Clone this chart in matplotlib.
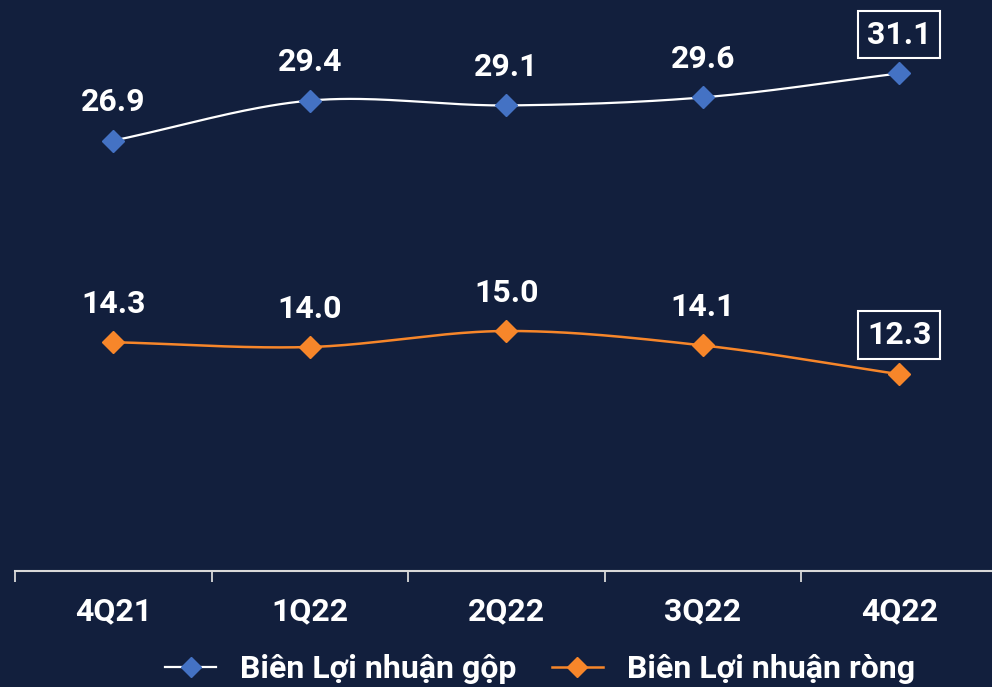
import numpy as np
import matplotlib
matplotlib.use("Agg")
import matplotlib.pyplot as plt
from matplotlib.lines import Line2D

categories = ["4Q21", "1Q22", "2Q22", "3Q22", "4Q22"]
gross_margin = [26.9, 29.4, 29.1, 29.6, 31.1]
net_margin = [14.3, 14.0, 15.0, 14.1, 12.3]
series_names = ["Biên Lợi nhuận gộp", "Biên Lợi nhuận ròng"]

BG = "#121f3d"
BLUE = "#4472c4"
ORANGE = "#f7862a"
WHITE = "#ffffff"
AXIS = "#d9d9d9"

plt.rcParams['font.family'] = ['Roboto', 'DejaVu Sans']
W = 'bold'
FS = 23


def smooth(xs, ys, n=40):
    """Catmull-Rom curve through the given points (for drawing only)."""
    xs = np.asarray(xs, float)
    ys = np.asarray(ys, float)
    P = np.column_stack([xs, ys])
    P = np.vstack([P[0] - (P[1] - P[0]), P, P[-1] + (P[-1] - P[-2])])
    out = []
    for i in range(1, len(P) - 2):
        p0, p1, p2, p3 = P[i - 1], P[i], P[i + 1], P[i + 2]
        t = np.linspace(0, 1, n)[:, None]
        seg = 0.5 * ((2 * p1) + (-p0 + p2) * t + (2 * p0 - 5 * p1 + 4 * p2 - p3) * t ** 2
                     + (-p0 + 3 * p1 - 3 * p2 + p3) * t ** 3)
        out.append(seg if i == 1 else seg[1:])
    out = np.vstack(out)
    return out[:, 0], out[:, 1]


fig = plt.figure(figsize=(9.92, 6.87), dpi=100, facecolor=BG)
ax = fig.add_axes([15 / 992, (687 - 571) / 687, 982.5 / 992, 560 / 687])
ax.set_facecolor(BG)

x = np.arange(len(categories))

sx, sy = smooth(x, gross_margin)
ax.plot(sx, sy, color=WHITE, lw=1.6, zorder=2)
ax.plot(x, gross_margin, ls='none', marker='D', ms=11, color=BLUE, mec=BLUE, zorder=3)

sx, sy = smooth(x, net_margin)
ax.plot(sx, sy, color=ORANGE, lw=1.8, zorder=2)
ax.plot(x, net_margin, ls='none', marker='D', ms=11, color=ORANGE, mec=ORANGE, zorder=3)

for series in (gross_margin, net_margin):
    for i, v in enumerate(series):
        last = i == len(series) - 1
        off = 28 if last else 27.5
        bbox = dict(boxstyle='square,pad=0.28', fc=BG, ec=WHITE, lw=1.5) if last else None
        ax.annotate(f"{v:.1f}", (i, v), xytext=(0, off), textcoords='offset points',
                    ha='center', va='center', color=WHITE, fontsize=FS,
                    fontweight=W, bbox=bbox, zorder=4)

ax.set_xlim(-0.5, len(categories) - 0.5)
ax.set_ylim(0, 35)
ax.set_yticks([])
ax.set_xticks(x)
ax.set_xticklabels(categories, color=WHITE, fontsize=FS, fontweight=W)
ax.set_xticks(np.arange(-0.5, len(categories)), minor=True)
ax.tick_params(axis='x', which='major', length=0, pad=18)
ax.tick_params(axis='x', which='minor', length=8, width=1.3, color=AXIS, direction='out')
for s in ('top', 'right', 'left'):
    ax.spines[s].set_visible(False)
ax.spines['bottom'].set_color(AXIS)
ax.spines['bottom'].set_linewidth(1.5)

handles = [
    Line2D([], [], color=WHITE, lw=1.6, marker='D', ms=10, mfc=BLUE, mec=BLUE),
    Line2D([], [], color=ORANGE, lw=1.8, marker='D', ms=10, mfc=ORANGE, mec=ORANGE),
]
leg = fig.legend(handles, series_names, loc='center', bbox_to_anchor=(540 / 992, 1 - 669 / 687),
                 ncol=2, frameon=False, handlelength=1.6, handletextpad=0.75,
                 columnspacing=1.1, labelcolor=WHITE, prop={'weight': W, 'size': FS})

fig.savefig("out.png", dpi=100, facecolor=BG)
